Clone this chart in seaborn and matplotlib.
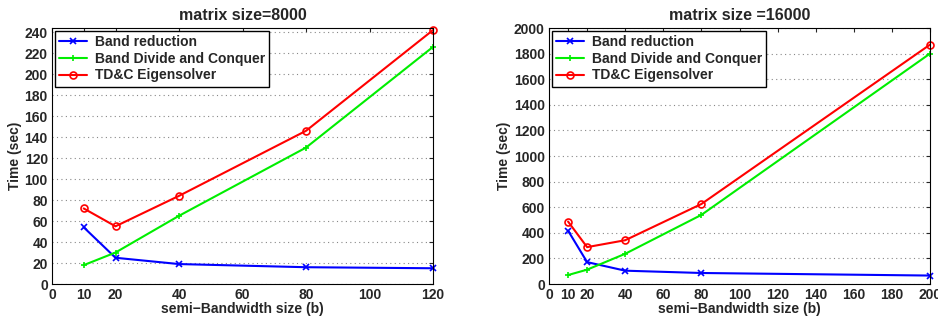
import matplotlib
matplotlib.use("Agg")
import matplotlib.pyplot as plt
import seaborn as sns
import pandas as pd

# ---- data ----
x_8000 = [10, 20, 40, 80, 120]
band_red_8000 = [54, 25, 19, 16, 15]
band_dc_8000 = [18, 30, 65, 130, 226]
tdc_8000 = [72, 55, 84, 146, 242]

x_16000 = [10, 20, 40, 80, 200]
band_red_16000 = [417, 171, 104, 86, 66]
band_dc_16000 = [70, 112, 236, 540, 1800]
tdc_16000 = [488, 288, 342, 625, 1870]

series_names = ["Band reduction", "Band Divide and Conquer", "TD&C Eigensolver"]
titles = ["matrix size=8000", "matrix size =16000"]
xlabel = "semi\u2212Bandwidth size (b)"
ylabel = "Time (sec)"
xticks_8000 = [0, 10, 20, 40, 60, 80, 100, 120]
yticks_8000 = list(range(0, 241, 20))
xticks_16000 = [0, 10, 20, 40, 60, 80, 100, 120, 140, 160, 180, 200]
yticks_16000 = list(range(0, 2001, 200))

sns.set_style("white")
plt.rcParams['font.family'] = ['Liberation Sans', 'DejaVu Sans']
plt.rcParams['font.weight'] = 'bold'
plt.rcParams['axes.labelweight'] = 'bold'
plt.rcParams['axes.titleweight'] = 'bold'

colors = ["#0000ff", "#00ee00", "#ff0000"]
markers = ["x", "+", "o"]

fig = plt.figure(figsize=(9.38, 3.25), dpi=100)
ax1 = fig.add_axes([52/938, 1-284/325, (433-52)/938, (284-28)/325])
ax2 = fig.add_axes([549/938, 1-284/325, (930-549)/938, (284-28)/325])

def draw(ax, x, ys, title, xticks, yticks, xlim, ylim):
    rows = []
    for name, y in zip(series_names, ys):
        for xi, yi in zip(x, y):
            rows.append({"b": xi, "t": yi, "s": name})
    df = pd.DataFrame(rows)
    for name, c, m in zip(series_names, colors, markers):
        sub = df[df.s == name]
        sns.lineplot(data=sub, x="b", y="t", ax=ax, color=c, marker=m,
                     markersize=5,
                     markerfacecolor="none" if m == "o" else c,
                     markeredgecolor=c, markeredgewidth=1.2,
                     linewidth=1.5, label=name, clip_on=False)
    ax.set_xlim(*xlim)
    ax.set_ylim(*ylim)
    ax.set_xticks(xticks)
    ax.set_yticks(yticks)
    ax.set_title(title, fontsize=11.5, fontweight='bold', pad=6)
    ax.set_xlabel(xlabel, fontsize=10, fontweight='bold', labelpad=0)
    ax.set_ylabel(ylabel, fontsize=10, fontweight='bold', labelpad=2)
    ax.tick_params(axis='both', direction='in', length=3, labelsize=10,
                   top=True, right=True, width=0.8, pad=3)
    for lab in ax.get_xticklabels() + ax.get_yticklabels():
        lab.set_fontweight('bold')
    ax.yaxis.grid(True, linestyle=(0, (1, 3)), color='#888888', linewidth=0.8)
    ax.xaxis.grid(False)
    for sp in ax.spines.values():
        sp.set_color('black')
        sp.set_linewidth(0.8)
    leg = ax.legend(loc='upper left', fontsize=10, frameon=True, fancybox=False,
                    edgecolor='black', framealpha=1, borderpad=0.3,
                    handlelength=2.0, handletextpad=0.6, labelspacing=0.2,
                    borderaxespad=0.2)
    leg.get_frame().set_linewidth(1.0)
    for t in leg.get_texts():
        t.set_fontweight('bold')

draw(ax1, x_8000, [band_red_8000, band_dc_8000, tdc_8000], titles[0],
     xticks_8000, yticks_8000, (0, 120), (0, 244))
draw(ax2, x_16000, [band_red_16000, band_dc_16000, tdc_16000], titles[1],
     xticks_16000, yticks_16000, (0, 200), (0, 2000))

fig.savefig("out.png", dpi=100)
